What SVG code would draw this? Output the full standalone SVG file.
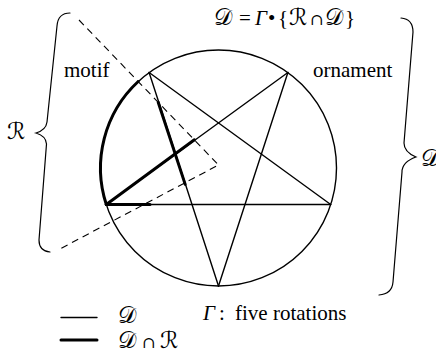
<svg xmlns="http://www.w3.org/2000/svg" width="436" height="353" viewBox="0 0 436 353">
<style>
.ln{fill:none;stroke:#000;stroke-width:1.4;stroke-linecap:round;stroke-linejoin:round}
.tk{fill:none;stroke:#000;stroke-width:3;stroke-linecap:round;stroke-linejoin:round}
.ds{fill:none;stroke:#000;stroke-width:1.1;stroke-dasharray:7 5}
.br{fill:none;stroke:#000;stroke-width:1.2;stroke-linecap:round}
.t{font-family:"Liberation Serif",serif;font-size:21px;fill:#000}
.m{font-family:"DejaVu Serif","DejaVu Sans",serif;font-size:23px;fill:#000}
.c{font-family:"DejaVu Serif",serif;font-size:16px}
.g{font-family:"Liberation Serif",serif;font-size:21px;font-style:italic;fill:#000}
</style>
<g id="connectors">
<g id="ornament-circle">
<circle class="ln" cx="218.5" cy="168" r="118"/>
</g>
<g id="pentagram">
<line class="ln" x1="149.1" y1="72.5" x2="218.5" y2="286"/>
<line class="ln" x1="149.1" y1="72.5" x2="330.7" y2="204.5"/>
<line class="ln" x1="287.9" y1="72.5" x2="106.3" y2="204.5"/>
<line class="ln" x1="287.9" y1="72.5" x2="218.5" y2="286"/>
<line class="ln" x1="106.3" y1="204.5" x2="330.7" y2="204.5"/>
</g>
<g id="motif-thick">
<path class="tk" d="M106.3 204.5 A118 118 0 0 1 138.2 81.5"/>
<line class="tk" x1="158.2" y1="102.3" x2="185.2" y2="184.4"/>
<line class="tk" x1="106.3" y1="204.5" x2="194.4" y2="139.8"/>
<line class="tk" x1="106.3" y1="204.5" x2="150" y2="204.5"/>
</g>
<g id="region-R">
<polyline class="ds" points="79,20 218.5,165 58,250"/>
</g>
<g id="braces">
<path class="br" d="M70 13 Q58 13 57 26 L47 122 Q46 130 36 133 Q46 136 46.5 144 L39 240 Q39 251 50 252"/>
<path class="br" d="M401 18 Q413 19 413 32 L404 143 Q404 152 416 157 Q402 162 402 172 L393 282 Q392 294 379 295"/>
</g>
</g>
<g id="labels">
<text class="t" x="64" y="77">motif</text>
<text class="t" x="313" y="77">ornament</text>
<text class="m" y="25"><tspan x="214">𝒟</tspan><tspan class="t" x="239">=</tspan><tspan class="g" x="255">Γ</tspan><tspan class="t" x="268">•</tspan><tspan class="t" x="278">{</tspan><tspan x="289">ℛ</tspan><tspan class="c" x="310">∩</tspan><tspan x="325">𝒟</tspan><tspan class="t" x="345">}</tspan></text>
<text class="m" x="7" y="139">ℛ</text>
<text class="m" x="421" y="166">𝒟</text>
<text class="t" y="320"><tspan class="g" x="203">Γ</tspan><tspan x="219">:</tspan><tspan x="235">five rotations</tspan></text>
</g>
<g id="legend">
<line class="ln" x1="61" y1="317.5" x2="97" y2="317.5"/>
<line class="tk" x1="61" y1="340" x2="97" y2="340"/>
<text class="m" x="118" y="323">𝒟</text>
<text class="m" y="348"><tspan x="118">𝒟</tspan><tspan class="c" x="142">∩</tspan><tspan x="160">ℛ</tspan></text>
</g>
</svg>
